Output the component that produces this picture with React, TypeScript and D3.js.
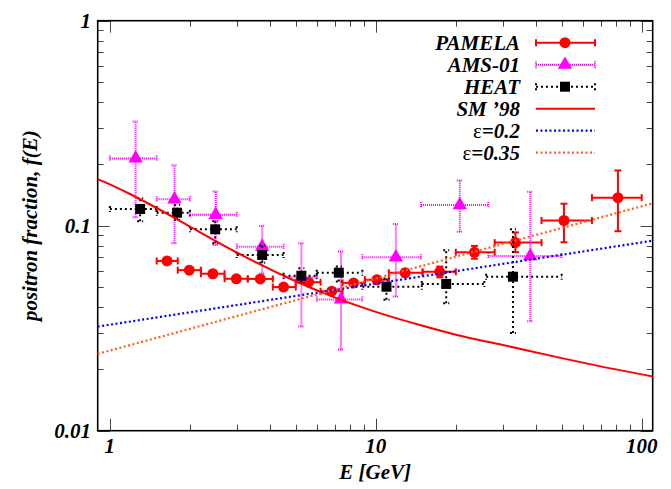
import React, { useRef, useEffect } from "react";
import * as d3 from "d3";

// PAMELA positron fraction
const pamE = [1.64, 1.99, 2.44, 2.99, 3.68, 4.5, 5.59, 6.83, 8.25, 10.1, 12.9, 17.4, 23.5, 33.5, 51.0, 81.4];
const pamF = [0.0673, 0.0607, 0.0583, 0.0551, 0.055, 0.0502, 0.053, 0.0479, 0.0526, 0.0545, 0.0589, 0.0596, 0.0742, 0.0827, 0.106, 0.137];
const pamElo = [1.5, 1.8, 2.2, 2.7, 3.3, 4.1, 5.0, 6.2, 7.5, 9.1, 11.2, 15, 20, 28, 42, 65];
const pamEhi = [1.8, 2.2, 2.7, 3.3, 4.1, 5.0, 6.2, 7.5, 9.1, 11.2, 15, 20, 28, 42, 65, 100];
const pamFlo = [0.0659, 0.0595, 0.0572, 0.054, 0.0539, 0.0491, 0.0518, 0.0465, 0.051, 0.0526, 0.0566, 0.056, 0.069, 0.0743, 0.083, 0.094];
const pamFhi = [0.0687, 0.0619, 0.0594, 0.0562, 0.0561, 0.0513, 0.0542, 0.0493, 0.0542, 0.0564, 0.0612, 0.0632, 0.0797, 0.0927, 0.128, 0.186];

// AMS-01
const amsE = [1.25, 1.75, 2.5, 3.74, 5.25, 7.4, 11.9, 20.7, 38.1];
const amsF = [0.213, 0.1345, 0.113, 0.079, 0.056, 0.0437, 0.0701, 0.126, 0.0711];
const amsElo = [1.0, 1.5, 2.0, 3.0, 4.5, 6.0, 8.9, 14.8, 26.5];
const amsEhi = [1.5, 2.0, 3.0, 4.5, 6.0, 8.9, 14.8, 26.5, 50];
const amsFlo = [0.11, 0.082, 0.0805, 0.0585, 0.0322, 0.0249, 0.0452, 0.0934, 0.0342];
const amsFhi = [0.322, 0.197, 0.147, 0.0997, 0.082, 0.0748, 0.1019, 0.166, 0.1466];

// HEAT
const heatE = [1.3, 1.79, 2.49, 3.74, 5.25, 7.26, 10.97, 18.4, 32.8];
const heatF = [0.1206, 0.1157, 0.096, 0.072, 0.057, 0.059, 0.0504, 0.052, 0.0564];
const heatElo = [1.0, 1.5, 2.0, 3.0, 4.5, 6.0, 8.9, 14.9, 26.0];
const heatEhi = [1.5, 2.0, 3.0, 4.5, 6.0, 8.9, 14.9, 25.6, 50];
const heatFlo = [0.105, 0.107, 0.082, 0.066, 0.0526, 0.0534, 0.0435, 0.0418, 0.03];
const heatFhi = [0.136, 0.126, 0.105, 0.08, 0.062, 0.0632, 0.0553, 0.076, 0.0962];

// SM '98 secondary fraction
const smE = [0.9, 1, 1.2, 1.5, 2, 3, 5, 7, 10, 15, 20, 30, 50, 70, 110];
const smF = [0.169, 0.159, 0.142, 0.122, 0.099, 0.074, 0.0536, 0.0447, 0.038, 0.0325, 0.0294, 0.0262, 0.0226, 0.0206, 0.0184];

// power-law lines, end points
const epsE = [0.9, 110];
const eps02 = [0.0322, 0.0845];
const eps035 = [0.0237, 0.1286];

const xTickLabels = [1, 10, 100];
const yTickLabels = [0.01, 0.1, 1];

const FONT = "'Liberation Serif', 'Times New Roman', serif";

export default function App() {
  const ref = useRef(null);

  useEffect(() => {
    const W = 671, H = 489;
    const L = 97.7, R = 652.7, T = 20.7, B = 430.7;
    d3.select(ref.current).selectAll("*").remove();
    const svg = d3.select(ref.current).append("svg")
      .attr("width", W).attr("height", H)
      .style("position", "absolute").style("left", 0).style("top", 0)
      .style("background", "#fff");

    const x = d3.scaleLog().domain([0.9, 110]).range([L, R]);
    const y = d3.scaleLog().domain([0.01, 1]).range([B, T]);

    // ticks
    const tk = svg.append("g").attr("stroke", "#444").attr("stroke-width", 1);
    const xt: number[] = [];
    for (let d = 1; d <= 100; d *= 10) for (let m = 1; m <= 9; m++) if (m * d <= 110) xt.push(m * d);
    xt.forEach((v) => {
      const len = xTickLabels.includes(v) ? 12 : 6;
      const px = Math.round(x(v)) + 0.5;
      tk.append("line").attr("x1", px).attr("x2", px).attr("y1", B).attr("y2", B - len);
      tk.append("line").attr("x1", px).attr("x2", px).attr("y1", T).attr("y2", T + len);
    });
    const yt: number[] = [];
    for (let d = 0.01; d < 1.5; d *= 10) for (let m = 1; m <= 9; m++) if (m * d <= 1.0001) yt.push(m * d);
    yt.forEach((v) => {
      const len = yTickLabels.some((t) => Math.abs(t - v) < 1e-9) ? 12 : 6;
      const py = Math.round(y(v)) + 0.5;
      tk.append("line").attr("x1", L).attr("x2", L + len).attr("y1", py).attr("y2", py);
      tk.append("line").attr("x1", R).attr("x2", R - len).attr("y1", py).attr("y2", py);
    });

    // frame
    svg.append("rect").attr("x", L).attr("y", T).attr("width", R - L).attr("height", B - T)
      .attr("fill", "none").attr("stroke", "#000").attr("stroke-width", 1.6);

    const txt = (g: any) => g.attr("font-family", FONT).attr("font-weight", "bold")
      .attr("font-style", "italic").attr("font-size", 21).attr("fill", "#000");

    xTickLabels.forEach((v) => {
      svg.append("text").call(txt).attr("x", x(v)).attr("y", 453).attr("text-anchor", "middle").text(v);
    });
    yTickLabels.forEach((v) => {
      svg.append("text").call(txt).attr("x", 91).attr("y", y(v) + 7).attr("text-anchor", "end").text(v);
    });
    svg.append("text").call(txt).attr("x", (L + R) / 2).attr("y", 479).attr("text-anchor", "middle").text("E [GeV]");
    svg.append("text").call(txt).attr("transform", `translate(37,${(T + B) / 2}) rotate(-90)`)
      .attr("text-anchor", "middle").text("positron fraction, f(E)");

    const plot = svg.append("g");
    plot.append("clipPath").attr("id", "clip").append("rect")
      .attr("x", L).attr("y", T).attr("width", R - L).attr("height", B - T);

    const drawSeries = (E: number[], F: number[], Elo: number[], Ehi: number[], Flo: number[], Fhi: number[],
      color: string, width: number, dash: string | null, cap: number, sym: any, size: number) => {
      const g = plot.append("g").attr("stroke", color).attr("stroke-width", width).attr("fill", "none");
      E.forEach((e, i) => {
        const px = x(e), py = y(F[i]);
        const segs = [
          [x(Elo[i]), py, x(Ehi[i]), py],
          [px, y(Flo[i]), px, y(Fhi[i])],
          [x(Elo[i]), py - cap, x(Elo[i]), py + cap],
          [x(Ehi[i]), py - cap, x(Ehi[i]), py + cap],
          [px - cap, y(Flo[i]), px + cap, y(Flo[i])],
          [px - cap, y(Fhi[i]), px + cap, y(Fhi[i])],
        ];
        segs.forEach((s) => {
          const l = g.append("line").attr("x1", s[0]).attr("y1", s[1]).attr("x2", s[2]).attr("y2", s[3]);
          if (dash) l.attr("stroke-dasharray", dash);
        });
      });
      plot.append("g").selectAll("path").data(E).enter().append("path")
        .attr("d", d3.symbol().type(sym).size(size)())
        .attr("transform", (e, i) => `translate(${x(e)},${y(F[i])})`)
        .attr("fill", color);
    };

    drawSeries(pamE, pamF, pamElo, pamEhi, pamFlo, pamFhi, "#ff0000", 2, null, 3.5, d3.symbolCircle, 95);
    drawSeries(amsE, amsF, amsElo, amsEhi, amsFlo, amsFhi, "#ff00ff", 2, "1,1", 3, d3.symbolTriangle, 90);
    drawSeries(heatE, heatF, heatElo, heatEhi, heatFlo, heatFhi, "#000000", 2, "2,3", 3, d3.symbolSquare, 100);

    const line = d3.line<[number, number]>().x((d) => x(d[0])).y((d) => y(d[1]));
    plot.append("path").attr("clip-path", "url(#clip)")
      .attr("d", line.curve(d3.curveMonotoneX)(smE.map((e, i) => [e, smF[i]])))
      .attr("fill", "none").attr("stroke", "#ff0000").attr("stroke-width", 2);
    const line2 = d3.line<[number, number]>().x((d) => x(d[0])).y((d) => y(d[1]));
    plot.append("path").attr("d", line2(epsE.map((e, i) => [e, eps02[i]])))
      .attr("fill", "none").attr("stroke", "#0000ff").attr("stroke-width", 2.2).attr("stroke-dasharray", "2,2.5");
    plot.append("path").attr("d", line2(epsE.map((e, i) => [e, eps035[i]])))
      .attr("fill", "none").attr("stroke", "#ff5f1f").attr("stroke-width", 2.2).attr("stroke-dasharray", "2,2.5");

    // legend
    const legNames = ["PAMELA", "AMS-01", "HEAT", "SM \u201998", "\u03b5=0.2", "\u03b5=0.35"];
    const lx1 = 536, lx2 = 595, lxm = 565;
    const leg = svg.append("g");
    legNames.forEach((n, i) => {
      const ly = 42.7 + i * 22;
      const t = leg.append("text").call(txt).attr("x", 520).attr("y", ly + 7.5).attr("text-anchor", "end");
      if (n.startsWith("\u03b5")) {
        t.append("tspan").attr("font-style", "normal").attr("font-weight", "normal").text("\u03b5");
        t.append("tspan").text(n.slice(1));
      } else {
        t.text(n);
      }
      const row = leg.append("g");
      if (i < 3) {
        const col = ["#ff0000", "#ff00ff", "#000000"][i];
        const dash = [null, "1,1", "2,3"][i];
        const sym = [d3.symbolCircle, d3.symbolTriangle, d3.symbolSquare][i];
        const size = [95, 90, 100][i];
        const segs = [[lx1, ly, lx2, ly], [lx1, ly - 3.5, lx1, ly + 3.5], [lx2, ly - 3.5, lx2, ly + 3.5]];
        segs.forEach((s) => {
          const l = row.append("line").attr("x1", s[0]).attr("y1", s[1]).attr("x2", s[2]).attr("y2", s[3])
            .attr("stroke", col).attr("stroke-width", 2);
          if (dash) l.attr("stroke-dasharray", dash);
        });
        row.append("path").attr("d", d3.symbol().type(sym).size(size)())
          .attr("transform", `translate(${lxm},${ly})`).attr("fill", col);
      } else {
        const col = ["#ff0000", "#0000ff", "#ff5f1f"][i - 3];
        const l = row.append("line").attr("x1", lx1).attr("x2", lx2).attr("y1", ly).attr("y2", ly)
          .attr("stroke", col).attr("stroke-width", i === 3 ? 2 : 2.2);
        if (i > 3) l.attr("stroke-dasharray", "2,2.5");
      }
    });
  }, []);

  return <div ref={ref} />;
}
